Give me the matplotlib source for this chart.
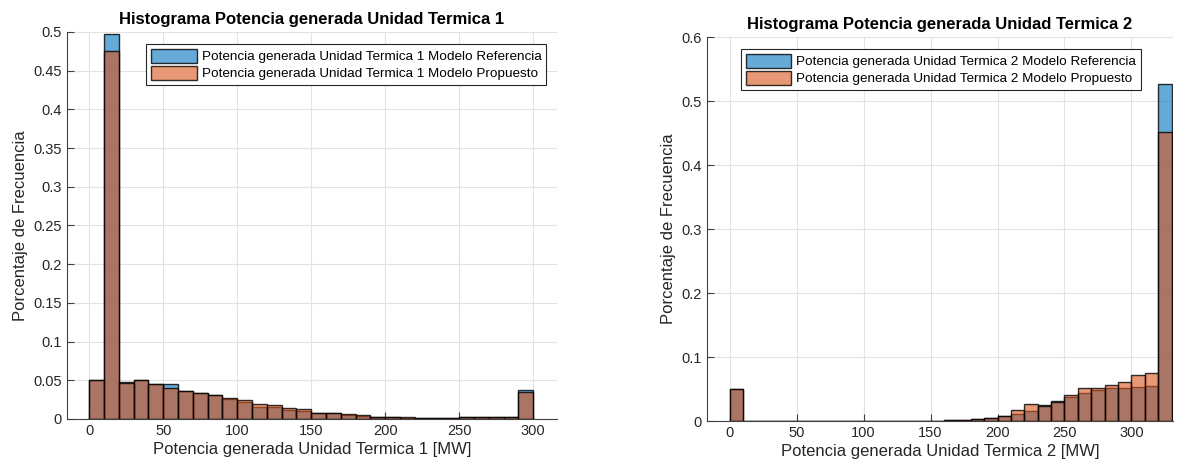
import numpy as np
import matplotlib.pyplot as plt
from matplotlib.ticker import FormatStrFormatter

plt.rcParams['font.family'] = ['Liberation Sans', 'DejaVu Sans']

# Unidad Termica 1: bins de 10 MW entre 0 y 300
edges1 = np.arange(0, 301, 10)
ref1 = [0.050, 0.498, 0.048, 0.051, 0.045, 0.045, 0.036, 0.034, 0.0315, 0.0255,
        0.022, 0.016, 0.015, 0.012, 0.010, 0.0072, 0.0073, 0.0054, 0.0043, 0.002,
        0.002, 0.0015, 0.001, 0.001, 0.0015, 0.002, 0.0025, 0.0025, 0.0025, 0.037]
prop1 = [0.050, 0.476, 0.046, 0.051, 0.045, 0.040, 0.036, 0.034, 0.0315, 0.027,
         0.024, 0.020, 0.018, 0.014, 0.0124, 0.008, 0.0073, 0.0062, 0.0052, 0.0022,
         0.0025, 0.002, 0.001, 0.001, 0.0015, 0.002, 0.0025, 0.0025, 0.0025, 0.035]

# Unidad Termica 2: bins de 10 MW entre 0 y 330
edges2 = np.arange(0, 331, 10)
ref2 = [0.050, 0, 0, 0, 0, 0, 0, 0, 0, 0, 0, 0, 0, 0.0003, 0.0003, 0.0003,
        0.0008, 0.001, 0.0025, 0.004, 0.008, 0.011, 0.016, 0.025, 0.031, 0.038,
        0.043, 0.048, 0.051, 0.052, 0.053, 0.055, 0.527]
prop2 = [0.050, 0, 0, 0, 0, 0, 0, 0, 0, 0, 0, 0, 0, 0.0003, 0.0003, 0.0003,
         0.0008, 0.001, 0.0025, 0.004, 0.008, 0.017, 0.027, 0.023, 0.029, 0.041,
         0.051, 0.051, 0.056, 0.061, 0.072, 0.075, 0.451]

blue = (0, 0.447, 0.741, 0.6)
orange = (0.85, 0.325, 0.098, 0.6)
edge = (0, 0, 0, 0.8)
axcol = '#404040'

fig = plt.figure(figsize=(11.85, 4.67), dpi=100)
ax1 = fig.add_axes([0.0565, 0.1028, 0.4135, 0.8287])
ax2 = fig.add_axes([0.5966, 0.0985, 0.3932, 0.822])

panels = [
    (ax1, edges1, ref1, prop1, 1, (-15, 316), (0, 0.5), np.arange(0, 0.501, 0.05), 0.9776),
    (ax2, edges2, ref2, prop2, 2, (-17, 331), (0, 0.6), np.arange(0, 0.601, 0.1), 0.931),
]

for ax, edges, ref, prop, n, xl, yl, yt, lx in panels:
    ax.bar(edges[:-1], ref, width=10, align='edge', color=blue, edgecolor=edge,
           linewidth=1, label=f'Potencia generada Unidad Termica {n} Modelo Referencia')
    ax.bar(edges[:-1], prop, width=10, align='edge', color=orange, edgecolor=edge,
           linewidth=1, label=f'Potencia generada Unidad Termica {n} Modelo Propuesto')
    ax.set_xlim(*xl)
    ax.set_ylim(*yl)
    ax.set_xticks(np.arange(0, 301, 50))
    ax.set_yticks(yt)
    ax.yaxis.set_major_formatter(FormatStrFormatter('%g'))
    ax.set_axisbelow(True)
    ax.grid(True, color='#e2e2e2', linewidth=0.8)
    for s in ['top', 'right']:
        ax.spines[s].set_visible(False)
    for s in ['left', 'bottom']:
        ax.spines[s].set_color(axcol)
    ax.tick_params(direction='in', length=5, colors=axcol, labelsize=10.5,
                   labelcolor='#262626')
    ax.set_title(f'Histograma Potencia generada Unidad Termica {n}',
                 fontsize=12, fontweight='bold', pad=6)
    ax.set_xlabel(f'Potencia generada Unidad Termica {n} [MW]', fontsize=12,
                  color='#262626', labelpad=3)
    ax.set_ylabel('Porcentaje de Frecuencia', fontsize=12, color='#262626')
    leg = ax.legend(loc='upper right', bbox_to_anchor=(lx, 0.969), fontsize=9.7,
                    fancybox=False, framealpha=1, edgecolor='#262626',
                    handlelength=3.4, handleheight=1.2, borderaxespad=0,
                    borderpad=0.35, labelspacing=0.2, handletextpad=0.35)
    leg.get_frame().set_linewidth(0.8)

fig.savefig('out.png', dpi=100)
